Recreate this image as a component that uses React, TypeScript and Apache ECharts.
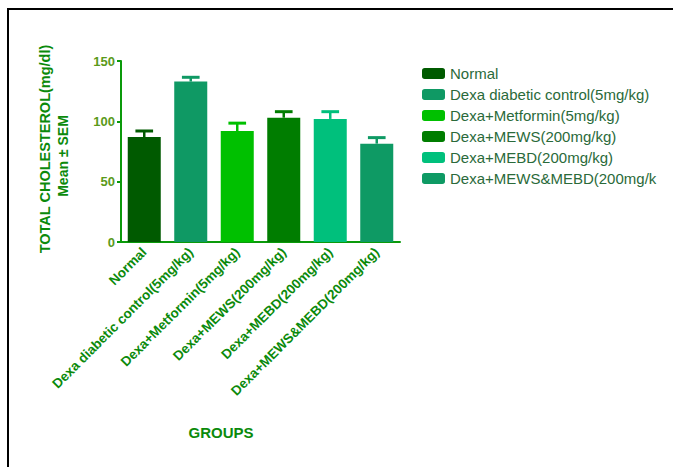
import React, { useEffect, useRef } from "react";
import * as echarts from "echarts";

const categories = [
  "Normal",
  "Dexa diabetic control(5mg/kg)",
  "Dexa+Metformin(5mg/kg)",
  "Dexa+MEWS(200mg/kg)",
  "Dexa+MEBD(200mg/kg)",
  "Dexa+MEWS&MEBD(200mg/kg)",
];
const means = [87, 133, 92, 103, 102, 81.5];
const sems = [5, 3.5, 6.5, 5, 6, 5];
const colors = ["#005a00", "#0f9964", "#00c000", "#007d00", "#00c07c", "#0e9a64"];
const yTicks = [0, 50, 100, 150];

const textGreen = "#0b8a0b";
const axisGreen = "#0a9a0a";

export default function App() {
  const ref = useRef<HTMLDivElement>(null);
  useEffect(() => {
    const chart = echarts.init(ref.current!, null, { renderer: "svg" });
    const barSeries = categories.map((name, i) => ({
      name,
      type: "bar",
      stack: "all",
      barWidth: "71%",
      itemStyle: { color: colors[i] },
      data: categories.map((_, j) => (j === i ? means[j] : "-")),
    }));
    const errData = categories.map((_, i) => [i, means[i], sems[i]]);
    const option: any = {
      animation: false,
      backgroundColor: "#ffffff",
      grid: { left: 121, right: 273, top: 61, bottom: 225, containLabel: false },
      legend: {
        orient: "vertical",
        left: 417,
        top: 61,
        itemWidth: 23,
        itemHeight: 11,
        itemGap: 6,
        icon: "roundRect",
        data: categories,
        textStyle: {
          fontFamily: "Liberation Sans, Arial, sans-serif",
          fontSize: 15,
          color: "#2a6a3a",
          width: 210,
          overflow: "truncate",
          ellipsis: "",
        },
      },
      xAxis: {
        type: "category",
        data: categories,
        axisLine: { lineStyle: { color: axisGreen, width: 2 } },
        axisTick: { alignWithLabel: true, length: 5, lineStyle: { color: axisGreen, width: 2 } },
        axisLabel: {
          rotate: 45,
          interval: 0,
          margin: 8,
          fontFamily: "Liberation Sans, Arial, sans-serif",
          fontSize: 13.5,
          fontWeight: "bold",
          color: textGreen,
        },
      },
      yAxis: {
        type: "value",
        min: 0,
        max: 150,
        interval: 50,
        splitLine: { show: false },
        axisLine: { show: true, lineStyle: { color: axisGreen, width: 2 } },
        axisTick: { show: true, length: 4, lineStyle: { color: axisGreen, width: 2 } },
        axisLabel: {
          margin: 6,
          fontFamily: "Liberation Sans, Arial, sans-serif",
          fontSize: 13,
          fontWeight: "bold",
          color: "#5a9a1a",
          formatter: (v: number) => (yTicks.includes(v) ? String(v) : ""),
        },
      },
      series: [
        ...barSeries,
        {
          type: "custom",
          name: "err",
          data: errData,
          z: 1,
          renderItem: (params: any, api: any) => {
            const idx = api.value(0);
            const m = api.value(1);
            const e = api.value(2);
            const p0 = api.coord([idx, m]);
            const p1 = api.coord([idx, m + e]);
            const bw = api.size([1, 0])[0] * 0.38;
            const c = colors[params.dataIndex];
            return {
              type: "group",
              children: [
                { type: "line", shape: { x1: p0[0], y1: p0[1], x2: p1[0], y2: p1[1] }, style: { stroke: c, lineWidth: 2.5 } },
                { type: "line", shape: { x1: p1[0] - bw / 2, y1: p1[1], x2: p1[0] + bw / 2, y2: p1[1] }, style: { stroke: c, lineWidth: 3 } },
              ],
            };
          },
        },
      ],
      graphic: [
        { type: "line", shape: { x1: 7, y1: 9, x2: 673, y2: 9 }, style: { stroke: "#000", lineWidth: 2 } },
        { type: "line", shape: { x1: 8, y1: 8, x2: 8, y2: 467 }, style: { stroke: "#000", lineWidth: 2 } },
        {
          type: "text",
          x: 45,
          y: 149,
          rotation: Math.PI / 2,
          style: {
            text: "TOTAL CHOLESTEROL(mg/dl)",
            fontFamily: "Liberation Sans, Arial, sans-serif",
            fontSize: 14.5,
            fontWeight: "bold",
            fill: textGreen,
            align: "center",
            verticalAlign: "middle",
          },
        },
        {
          type: "text",
          x: 63,
          y: 156,
          rotation: Math.PI / 2,
          style: {
            text: "Mean ± SEM",
            fontFamily: "Liberation Sans, Arial, sans-serif",
            fontSize: 14,
            fontWeight: "bold",
            fill: textGreen,
            align: "center",
            verticalAlign: "middle",
          },
        },
        {
          type: "text",
          x: 221,
          y: 432,
          style: {
            text: "GROUPS",
            fontFamily: "Liberation Sans, Arial, sans-serif",
            fontSize: 15,
            fontWeight: "bold",
            fill: textGreen,
            align: "center",
            verticalAlign: "middle",
          },
        },
      ],
    };
    chart.setOption(option);
    return () => chart.dispose();
  }, []);
  return (
    <div
      ref={ref}
      style={{ position: "absolute", left: 0, top: 0, width: 673, height: 467 }}
    />
  );
}
